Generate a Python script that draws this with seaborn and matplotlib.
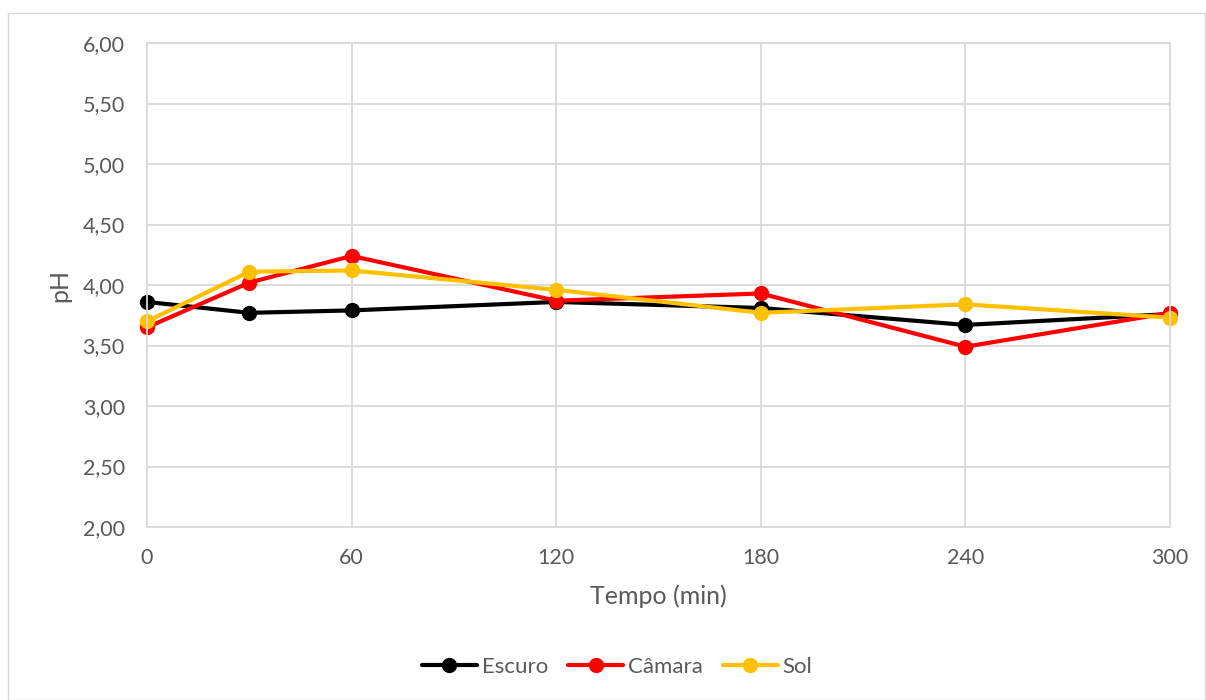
import matplotlib
matplotlib.use("Agg")
import matplotlib.pyplot as plt
import matplotlib.patches as mpatches
from matplotlib.ticker import FuncFormatter, FixedLocator
import seaborn as sns
import pandas as pd

# Measurements: pH over time for each storage condition
tempo = [0, 30, 60, 120, 180, 240, 300]
escuro = [3.86, 3.77, 3.79, 3.86, 3.81, 3.67, 3.76]
camara = [3.65, 4.02, 4.24, 3.87, 3.93, 3.49, 3.77]
sol = [3.70, 4.11, 4.12, 3.96, 3.77, 3.84, 3.73]
series_names = ["Escuro", "Câmara", "Sol"]
x_ticks = [0, 60, 120, 180, 240, 300]
y_ticks = [2.0, 2.5, 3.0, 3.5, 4.0, 4.5, 5.0, 5.5, 6.0]

df = pd.DataFrame({
    "Tempo (min)": tempo * 3,
    "pH": escuro + camara + sol,
    "serie": [n for n in series_names for _ in tempo],
})

sns.set_theme(style="white")
plt.rcParams["font.family"] = ["Lato", "DejaVu Sans"]

grid_c = "#D9D9D9"
text_c = "#595959"

fig = plt.figure(figsize=(12.06, 7.0), dpi=100)
ax = fig.add_axes([147 / 1206, 1 - 527 / 700, (1170 - 147) / 1206, (527 - 43) / 700])

palette = {"Escuro": "#000000", "Câmara": "#FF0000", "Sol": "#FFC000"}
sns.lineplot(data=df, x="Tempo (min)", y="pH", hue="serie", palette=palette,
             marker="o", markersize=11, markeredgewidth=0, linewidth=3,
             ax=ax, legend=True, estimator=None, sort=False)
for ln in ax.get_lines():
    ln.set_clip_on(False)

ax.set_xlim(0, 300)
ax.set_ylim(2, 6)
ax.xaxis.set_major_locator(FixedLocator(x_ticks))
ax.yaxis.set_major_locator(FixedLocator(y_ticks))
ax.yaxis.set_major_formatter(FuncFormatter(lambda v, p: f"{v:.2f}".replace(".", ",")))
ax.grid(True, color=grid_c, linewidth=1.3)
ax.set_axisbelow(True)
for s in ax.spines.values():
    s.set_color(grid_c)
    s.set_linewidth(1.3)
ax.tick_params(axis="both", length=0, labelsize=15.5, labelcolor=text_c)
ax.tick_params(axis="x", pad=15)
ax.tick_params(axis="y", pad=16)
ax.set_xlabel("Tempo (min)", fontsize=18, color=text_c, labelpad=12)
ax.set_ylabel("pH", fontsize=18, color=text_c, labelpad=8)

handles, labels = ax.get_legend_handles_labels()
leg = fig.legend(handles, labels, loc="center", bbox_to_anchor=(617 / 1206, 1 - 667 / 700),
                 ncol=3, frameon=False, fontsize=16, handlelength=2.5, columnspacing=0.9,
                 handletextpad=0.2)
for t in leg.get_texts():
    t.set_color(text_c)
if ax.get_legend() is not None:
    ax.get_legend().remove()

# outer chart border
fig.patches.append(mpatches.Rectangle((8 / 1206, 0.5 / 700), (1205 - 8) / 1206, (700 - 13.5) / 700,
                                      transform=fig.transFigure, fill=False,
                                      edgecolor=grid_c, linewidth=1.0))

fig.savefig("out.png", dpi=100)
